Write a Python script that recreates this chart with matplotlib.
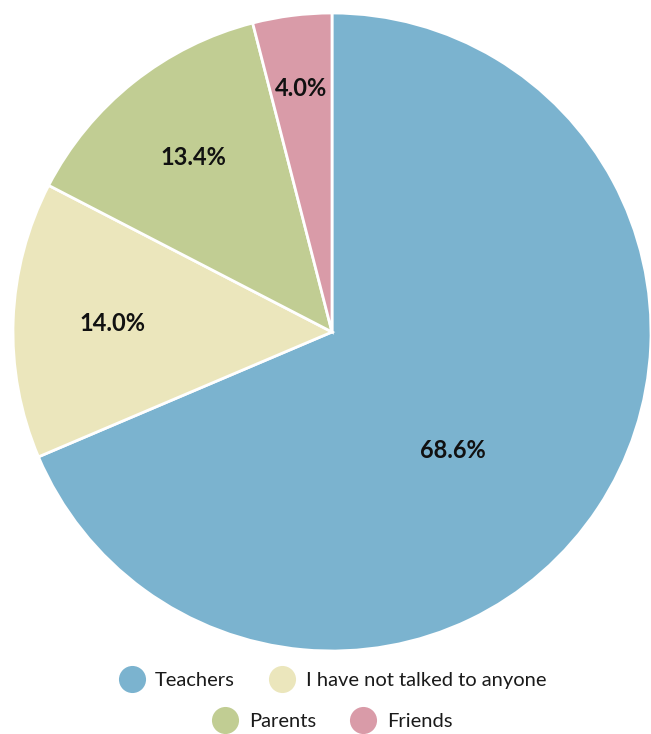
import numpy as np
import matplotlib
matplotlib.use("Agg")
import matplotlib.pyplot as plt
from matplotlib.lines import Line2D

categories = ["Teachers", "I have not talked to anyone", "Parents", "Friends"]
shares = [68.6, 14.0, 13.4, 4.0]
colors = ["#7BB3CF", "#EBE6BC", "#C1CD93", "#D99BA8"]
# label placement: radial fraction and angular nudge (degrees) per slice
label_radius = [0.53, 0.69, 0.70, 0.77]
label_nudge = [-11.0, 0.0, 0.0, 0.0]

plt.rcParams["font.family"] = ["Lato", "DejaVu Sans"]

W, H = 651, 734
fig = plt.figure(figsize=(W / 100, H / 100), dpi=100)
cx, cy, R = 332, 332, 319
ax = fig.add_axes([(cx - R) / W, (H - cy - R) / H, 2 * R / W, 2 * R / H])

wedges, _ = ax.pie(shares, colors=colors, startangle=90, counterclock=False,
                   radius=1.0, wedgeprops=dict(edgecolor="white", linewidth=2))
ax.set_xlim(-1, 1)
ax.set_ylim(-1, 1)
ax.set_aspect("equal")
ax.axis("off")

total = sum(shares)
start = 90.0
for val, rf, nudge in zip(shares, label_radius, label_nudge):
    sweep = val / total * 360.0
    mid = np.deg2rad(start - sweep / 2 + nudge)
    ax.text(rf * np.cos(mid), rf * np.sin(mid), f"{val:.1f}%",
            ha="center", va="center", fontsize=17, fontweight="bold", color="#111111")
    start -= sweep

def make_handles(idx):
    return [Line2D([], [], marker="o", linestyle="none", markersize=19.5,
                   markerfacecolor=colors[i], markeredgecolor="none") for i in idx]

rows = [[0, 1], [2, 3]]
row_y = [680, 721]
for idx, y in zip(rows, row_y):
    fig.legend(make_handles(idx), [categories[i] for i in idx], loc="center",
               bbox_to_anchor=(cx / W, 1 - y / H), ncol=2, frameon=False,
               fontsize=14.5, handlelength=1.35, handletextpad=0.5,
               columnspacing=1.65, borderpad=0, borderaxespad=0,
               labelcolor="#1a1a1a")

fig.savefig("out.png", dpi=100)
